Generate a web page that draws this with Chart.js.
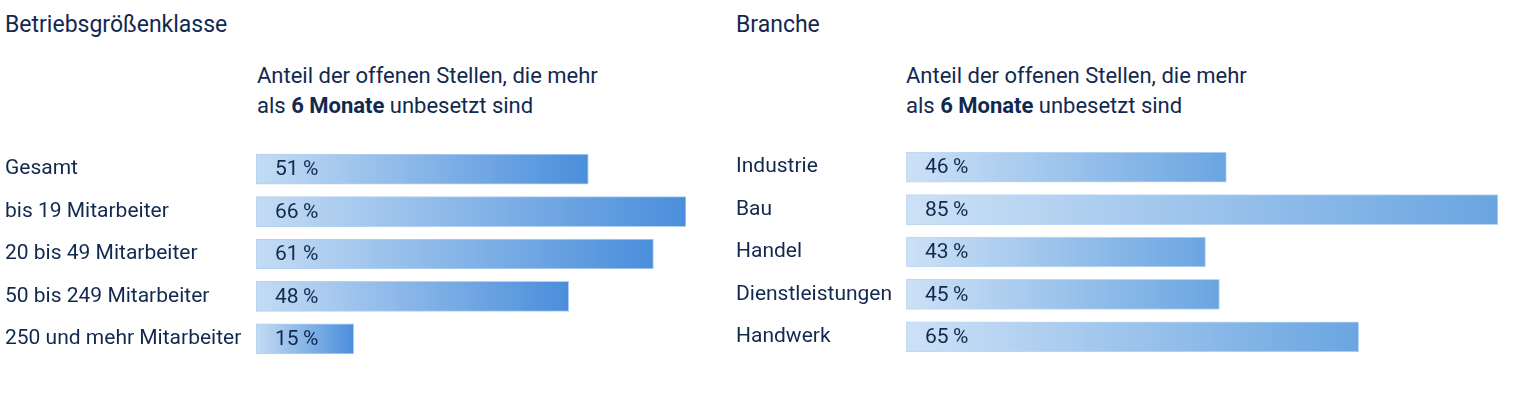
<!DOCTYPE html>
<html lang="de">
<head>
<meta charset="utf-8">
<title>Offene Stellen, die mehr als 6 Monate unbesetzt sind</title>
<script src="https://cdn.jsdelivr.net/npm/chart.js@4.4.1/dist/chart.umd.min.js"></script>
<style>
  html, body { margin: 0; padding: 0; background: #fff; }
  body { width: 1520px; height: 394px; position: relative; overflow: hidden;
         font-family: Roboto, sans-serif; color: #12294f; }
  .title { position: absolute; top: 10px; font-size: 23px; line-height: 30px; white-space: nowrap; }
  .sub { position: absolute; top: 61px; font-size: 22px; line-height: 30px; white-space: nowrap; }
  .sub b { font-weight: 700; }
  .box { position: absolute; }
</style>
</head>
<body>
<div class="title" style="left:5px">Betriebsgrößenklasse</div>
<div class="sub" style="left:257px">Anteil der offenen Stellen, die mehr<br>als <b>6 Monate</b> unbesetzt sind</div>
<div class="box" style="left:0;top:148px;width:690px;height:212px"><canvas id="sizeChart"></canvas></div>

<div class="title" style="left:736px">Branche</div>
<div class="sub" style="left:906px">Anteil der offenen Stellen, die mehr<br>als <b>6 Monate</b> unbesetzt sind</div>
<div class="box" style="left:731px;top:146px;width:771px;height:212px"><canvas id="branchChart"></canvas></div>

<script>
// Werte in Prozent (Anteil der Stellen, die > 6 Monate unbesetzt sind)
const sizeLabels = ['Gesamt', 'bis 19 Mitarbeiter', '20 bis 49 Mitarbeiter', '50 bis 249 Mitarbeiter', '250 und mehr Mitarbeiter'];
const sizeValues = [51, 66, 61, 48, 15];

const branchLabels = ['Industrie', 'Bau', 'Handel', 'Dienstleistungen', 'Handwerk'];
const branchValues = [46, 85, 43, 45, 65];

const TEXT_COLOR = '#12294f';

Chart.defaults.font.family = 'Roboto, sans-serif';
Chart.defaults.color = TEXT_COLOR;

// horizontal gradient from the bar base to the bar end
function barGradient(from, to) {
    return (ctx) => {
        const chart = ctx.chart;
        const x = chart.scales.x;
        if (!chart.chartArea || !x || ctx.type !== 'data') return to;
        const x0 = x.getPixelForValue(0);
        const x1 = x.getPixelForValue(ctx.raw);
        const g = chart.ctx.createLinearGradient(x0, 0, Math.max(x1, x0 + 1), 0);
        g.addColorStop(0, from);
        g.addColorStop(1, to);
        return g;
    };
}

// percentage text inside the bars
const valueLabels = {
    id: 'valueLabels',
    afterDatasetsDraw(chart) {
        const { ctx } = chart;
        const meta = chart.getDatasetMeta(0);
        const values = chart.data.datasets[0].data;
        ctx.save();
        ctx.font = '21px Roboto, sans-serif';
        ctx.fillStyle = TEXT_COLOR;
        ctx.textBaseline = 'middle';
        ctx.textAlign = 'left';
        meta.data.forEach((bar, i) => {
            ctx.fillText(values[i] + '\u2009%', bar.base + 19, bar.y + 1);
        });
        ctx.restore();
    }
};

function makeChart(id, labels, values, axisWidth, from, to, edge) {
    return new Chart(document.getElementById(id), {
        type: 'bar',
        data: {
            labels: labels,
            datasets: [{
                data: values,
                backgroundColor: barGradient(from, to),
                borderColor: edge,
                borderWidth: 1,
                borderSkipped: false,
                barThickness: 30
            }]
        },
        options: {
            indexAxis: 'y',
            responsive: true,
            maintainAspectRatio: false,
            animation: false,
            layout: { padding: { left: 5, right: 4, top: 0, bottom: 0 } },
            plugins: {
                legend: { display: false },
                tooltip: { enabled: false }
            },
            scales: {
                x: { display: false, min: 0, max: Math.max(...values) },
                y: {
                    grid: { display: false },
                    border: { display: false },
                    afterFit: (scale) => {
                        scale.width = axisWidth;
                        // rows fill the whole box height
                        scale.paddingTop = 0;
                        scale.paddingBottom = 0;
                    },
                    ticks: {
                        crossAlign: 'far',
                        padding: 0,
                        color: TEXT_COLOR,
                        font: { size: 21 }
                    }
                }
            }
        },
        plugins: [valueLabels]
    });
}

makeChart('sizeChart', sizeLabels, sizeValues, 251, '#c4dcf4', '#4a8edb', '#b3d0f0');
makeChart('branchChart', branchLabels, branchValues, 170, '#cde1f6', '#6aa5e1', '#bcd8f3');
</script>
</body>
</html>
